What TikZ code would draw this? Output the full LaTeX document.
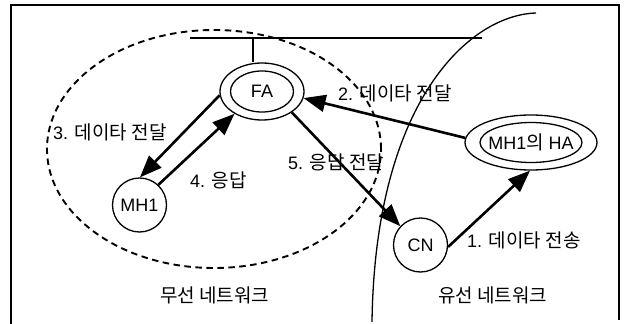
\documentclass[tikz,border=0pt]{standalone}
\usepackage{fontspec}
\setmainfont{Liberation Sans}
\newfontfamily\krfont{Noto Sans CJK KR}
\newcommand\hg[1]{{\krfont\fontsize{19}{21}\selectfont #1}}
\usetikzlibrary{shapes.geometric,arrows.meta}
\begin{document}
\begin{tikzpicture}[x=1pt,y=-1pt,
  every node/.style={font=\fontsize{18}{20}\selectfont, inner sep=0pt},
  agent/.style={draw, line width=1.3pt, ellipse},
  host/.style={draw, line width=1.3pt, circle, minimum size=54pt},
  flow/.style={line width=2.6pt, -{Triangle[length=22pt,width=17pt]}},
  lbl/.style={anchor=west},
  thin line/.style={line width=1.3pt},
  zone/.style={line width=1.9pt, dash pattern=on 6.5pt off 4.5pt}
]
\useasboundingbox (0,0) rectangle (624,324);
% frame
\draw[line width=1.4pt] (11,324) -- (11,5) -- (619,5) -- (619,320);
% wireless zone
\draw[zone] (214,149) ellipse [x radius=167pt, y radius=119pt];
% boundary curve
\coordinate (ctop) at (536,13);
\coordinate (cbot) at (372,322);
\draw[thin line] (ctop) .. controls (470,15) and (375,100) .. (cbot);
% nodes
\node[agent, minimum width=84pt, minimum height=57pt] (fa) at (262,91.5) {FA};
\draw[thin line] (fa.center) ellipse [x radius=31.5pt, y radius=20.5pt];
\node[agent, minimum width=132pt, minimum height=55pt] (ha) at (531,142.5) {MH1\hg{의} HA};
\draw[thin line] (ha.center) ellipse [x radius=51pt, y radius=20pt];
\node[host] (mh) at (139.5,205) {MH1};
\node[host] (cn) at (420.5,245) {CN};
% bus
\coordinate (busL) at (190,38);
\coordinate (busR) at (482,38);
\coordinate (stem) at (253,38);
\draw[thin line] (busL) -- (busR);
\draw[thin line] (stem) -- (stem |- fa.north);
% flows
\draw[flow] (cn.356) -- (ha.268);
\draw[flow] (ha.176) -- (fa.351);
\draw[flow] (fa.185) -- (mh.89);
\draw[flow] (mh.47) -- (fa.219);
\draw[flow] (fa.325) -- (cn.137);
% labels
\node[lbl] (l3) at (53,132) {3. \hg{데이타 전달}};
\node[lbl] (l2) at (338,93) {2. \hg{데이타 전달}};
\node[lbl] (l4) at (190,180) {4. \hg{응답}};
\node[lbl] (l5) at (288,162) {5. \hg{응답 전달}};
\node[lbl] (l1) at (467,240) {1. \hg{데이타 전송}};
\node[lbl] (lw) at (160,295) {\hg{무선 네트워크}};
\node[lbl] (lc) at (438,295) {\hg{유선 네트워크}};
\end{tikzpicture}
\end{document}
